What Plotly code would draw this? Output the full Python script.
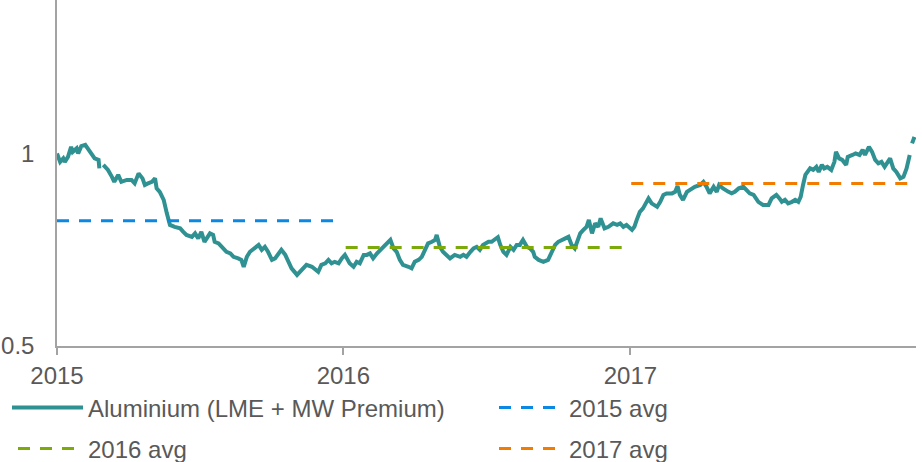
import plotly.graph_objects as go

# ---- data ----
dates = [
    "2015-01-01", "2015-01-05", "2015-01-09", "2015-01-11", "2015-01-15", "2015-01-19", "2015-01-21", "2015-01-26",
    "2015-01-28", "2015-02-01", "2015-02-06", "2015-02-10", "2015-02-14", "2015-02-18", "2015-02-23", "2015-02-24",
    "2015-02-27", "2015-03-01", "2015-03-07", "2015-03-12", "2015-03-15", "2015-03-20", "2015-03-24", "2015-03-31",
    "2015-04-06", "2015-04-10", "2015-04-15", "2015-04-20", "2015-04-23", "2015-04-27", "2015-05-02", "2015-05-06",
    "2015-05-08", "2015-05-12", "2015-05-17", "2015-05-21", "2015-05-25", "2015-05-31", "2015-06-07", "2015-06-11",
    "2015-06-15", "2015-06-22", "2015-06-26", "2015-06-30", "2015-07-04", "2015-07-08", "2015-07-11", "2015-07-15",
    "2015-07-19", "2015-07-21", "2015-07-26", "2015-08-01", "2015-08-05", "2015-08-10", "2015-08-14", "2015-08-20",
    "2015-08-24", "2015-08-27", "2015-08-31", "2015-09-04", "2015-09-10", "2015-09-15", "2015-09-19", "2015-09-23",
    "2015-09-27", "2015-10-02", "2015-10-06", "2015-10-10", "2015-10-14", "2015-10-19", "2015-10-23", "2015-10-27",
    "2015-11-03", "2015-11-09", "2015-11-15", "2015-11-22", "2015-11-26", "2015-11-30", "2015-12-04", "2015-12-09",
    "2015-12-13", "2015-12-17", "2015-12-21", "2015-12-26", "2015-12-30",
    "2016-01-03", "2016-01-09", "2016-01-14", "2016-01-18", "2016-01-22", "2016-01-27", "2016-01-31", "2016-02-04",
    "2016-02-08", "2016-02-13", "2016-02-19", "2016-02-25", "2016-03-01", "2016-03-05", "2016-03-09", "2016-03-13",
    "2016-03-17", "2016-03-24", "2016-03-28", "2016-04-01", "2016-04-06", "2016-04-10", "2016-04-14", "2016-04-18",
    "2016-04-23", "2016-04-27", "2016-04-29", "2016-05-03", "2016-05-07", "2016-05-12", "2016-05-16", "2016-05-22",
    "2016-05-29", "2016-06-02", "2016-06-06", "2016-06-11", "2016-06-15", "2016-06-19", "2016-06-23", "2016-06-27",
    "2016-07-04", "2016-07-08", "2016-07-12", "2016-07-16", "2016-07-19", "2016-07-23", "2016-07-27", "2016-08-01",
    "2016-08-05", "2016-08-09", "2016-08-13", "2016-08-17", "2016-08-22", "2016-08-26", "2016-08-30", "2016-09-01",
    "2016-09-06", "2016-09-12", "2016-09-18", "2016-09-23", "2016-09-27", "2016-10-01", "2016-10-05", "2016-10-10",
    "2016-10-14", "2016-10-18", "2016-10-22", "2016-10-25", "2016-10-29", "2016-11-02", "2016-11-06", "2016-11-09",
    "2016-11-13", "2016-11-17", "2016-11-21", "2016-11-24", "2016-11-29", "2016-12-04", "2016-12-10", "2016-12-15",
    "2016-12-19", "2016-12-23", "2016-12-27",
    "2017-01-03", "2017-01-06", "2017-01-09", "2017-01-13", "2017-01-17", "2017-01-22", "2017-01-24", "2017-01-28",
    "2017-02-04", "2017-02-08", "2017-02-12", "2017-02-16", "2017-02-23", "2017-02-27", "2017-03-02", "2017-03-05",
    "2017-03-09", "2017-03-14", "2017-03-18", "2017-03-24", "2017-03-31", "2017-04-04", "2017-04-08", "2017-04-12",
    "2017-04-17", "2017-04-21", "2017-04-24", "2017-04-29", "2017-05-06", "2017-05-10", "2017-05-14", "2017-05-19",
    "2017-05-25", "2017-05-29", "2017-06-02", "2017-06-07", "2017-06-13", "2017-06-19", "2017-06-26", "2017-06-30",
    "2017-07-06", "2017-07-10", "2017-07-13", "2017-07-17", "2017-07-21", "2017-07-26", "2017-07-30", "2017-08-03",
    "2017-08-06", "2017-08-09", "2017-08-12", "2017-08-18", "2017-08-22", "2017-08-26", "2017-08-29", "2017-09-02",
    "2017-09-05", "2017-09-09", "2017-09-14", "2017-09-18", "2017-09-20", "2017-09-24", "2017-09-28", "2017-10-03",
    "2017-10-05", "2017-10-11", "2017-10-15", "2017-10-20", "2017-10-24", "2017-10-27", "2017-11-01", "2017-11-05",
    "2017-11-09", "2017-11-13", "2017-11-17", "2017-11-21", "2017-11-28", "2017-12-02", "2017-12-06", "2017-12-11",
    "2017-12-15", "2017-12-19", "2017-12-23", "2017-12-24", "2017-12-26", "2017-12-29",
]

aluminium = [
    1.001, 0.979, 0.988, 0.979, 0.992, 1.018, 1.005, 1.014,
    1.001, 1.020, 1.023, 1.010, 0.997, 0.988, 0.984, 0.962,
    None, 0.971, 0.958, 0.940, 0.927, 0.945, 0.927, 0.932,
    0.932, 0.923, 0.949, 0.936, 0.919, 0.923, 0.927, 0.936,
    0.910, 0.901, 0.880, 0.845, 0.815, 0.810, 0.806, 0.797,
    0.789, 0.784, 0.793, 0.780, 0.797, 0.771, 0.780, 0.793,
    0.789, 0.771, 0.767, 0.754, 0.745, 0.741, 0.732, 0.728,
    0.724, 0.706, 0.732, 0.745, 0.754, 0.763, 0.750, 0.758,
    0.745, 0.724, 0.728, 0.741, 0.750, 0.737, 0.719, 0.702,
    0.685, 0.698, 0.711, 0.706, 0.698, 0.693, 0.711, 0.715,
    0.724, 0.715, 0.719, 0.715, 0.728,
    0.737, 0.715, 0.706, 0.719, 0.715, 0.737, 0.737, 0.741,
    0.728, 0.741, 0.754, 0.767, 0.776, 0.754, 0.745, 0.724,
    0.711, 0.706, 0.702, 0.719, 0.724, 0.732, 0.750, 0.767,
    0.771, 0.776, 0.789, 0.758, 0.745, 0.737, 0.728, 0.737,
    0.732, 0.737, 0.732, 0.745, 0.754, 0.758, 0.750, 0.763,
    0.771, 0.771, 0.776, 0.783, 0.763, 0.745, 0.737, 0.758,
    0.750, 0.763, 0.763, 0.776, 0.758, 0.754, 0.745, 0.732,
    0.724, 0.719, 0.724, 0.745, 0.763, 0.771, 0.776, 0.780,
    0.784, 0.763, 0.754, 0.771, 0.793, 0.802, 0.810, 0.828,
    0.793, 0.819, 0.810, 0.832, 0.806, 0.810, 0.819, 0.815,
    0.819, 0.810, 0.815,
    0.802, 0.810, 0.828, 0.849, 0.858, 0.880, 0.884, 0.871,
    0.862, 0.875, 0.893, 0.897, 0.897, 0.901, 0.916, 0.893,
    0.880, 0.901, 0.906, 0.914, 0.919, 0.927, 0.914, 0.897,
    0.914, 0.901, 0.919, 0.910, 0.901, 0.897, 0.901, 0.910,
    0.914, 0.906, 0.897, 0.893, 0.875, 0.867, 0.867, 0.884,
    0.893, 0.884, 0.875, 0.880, 0.871, 0.875, 0.880, 0.875,
    0.888, 0.919, 0.945, 0.962, 0.958, 0.966, 0.953, 0.971,
    0.962, 0.966, 0.958, 0.979, 1.005, 0.988, 0.984, 0.971,
    0.992, 0.997, 1.001, 0.997, 1.010, 0.997, 1.018, 1.005,
    0.984, 0.975, 0.979, 0.966, 0.988, 0.962, 0.953, 0.936,
    0.940, 0.962, 0.997, None, 1.027, 1.044,
]

avg_names = ["2015 avg", "2016 avg", "2017 avg"]
avg_values = [0.826, 0.756, 0.923]
avg_start = ["2015-01-01", "2016-01-04", "2017-01-02"]
avg_end = ["2015-12-31", "2016-12-30", "2017-12-29"]
avg_colors = ["#0A88E4", "#7BAA0A", "#F27C00"]

x_ticks = ["2015-01-01", "2016-01-01", "2017-01-01"]
x_ticktext = ["2015", "2016", "2017"]
y_ticks = [0.5, 1]
y_ticktext = ["0.5", "1"]

FONT = "Liberation Sans, Arial, sans-serif"
TEXT = "#595959"
AXIS = "#A3A3A3"
W, H = 922, 462

# one legend per entry, laid out as a 2 x 2 grid below the plot
legend_ids = ["legend", "legend2", "legend3", "legend4"]
legend_px = [(7, 408), (494, 408), (13, 449), (494, 449)]   # (left, centre) in pixels
legend_itemwidth = [71, 65, 65, 65]

fig = go.Figure()

fig.add_trace(go.Scatter(
    x=dates, y=aluminium, mode="lines", name="Aluminium (LME + MW Premium)",
    line=dict(color="#2F9191", width=4), connectgaps=False, legend=legend_ids[0],
))

avg_legends = [legend_ids[1], legend_ids[2], legend_ids[3]]
for name, val, s, e, col, lg in zip(avg_names, avg_values, avg_start, avg_end, avg_colors, avg_legends):
    fig.add_trace(go.Scatter(
        x=[s, e], y=[val, val], mode="lines", name=name,
        line=dict(color=col, width=3, dash="12px,10px"), legend=lg,
    ))

legend_layout = {}
for lid, (px, py), iw in zip(legend_ids, legend_px, legend_itemwidth):
    legend_layout[lid] = dict(
        orientation="h", xref="container", yref="container",
        x=px / W, y=1 - py / H, xanchor="left", yanchor="middle",
        font=dict(family=FONT, size=24, color=TEXT),
        itemwidth=iw, bgcolor="rgba(0,0,0,0)", borderwidth=0,
        itemclick=False, itemdoubleclick=False,
    )

fig.update_layout(
    width=W, height=H,
    margin=dict(l=57, r=6, t=0, b=116, autoexpand=False),
    paper_bgcolor="white", plot_bgcolor="white",
    font=dict(family=FONT, size=24, color=TEXT),
    showlegend=True,
    **legend_layout,
    xaxis=dict(
        type="date", range=["2015-01-01", "2017-12-31"],
        tickvals=x_ticks, ticktext=x_ticktext,
        showgrid=False, zeroline=False, automargin=False,
        showline=True, linecolor=AXIS, linewidth=1.5,
        ticks="outside", ticklen=7, tickwidth=1.5, tickcolor=AXIS,
        tickfont=dict(family=FONT, size=24, color=TEXT),
    ),
    yaxis=dict(
        range=[0.5, 1.4], tickvals=y_ticks, ticktext=y_ticktext,
        showgrid=False, zeroline=False, automargin=False,
        showline=True, linecolor=AXIS, linewidth=1.5,
        ticks="", ticklabelstandoff=16,
        tickfont=dict(family=FONT, size=24, color=TEXT),
    ),
)

# remove the browser's default page margin so the figure sits at the window's corner
fig.write_html(
    "out.html",
    config={"displayModeBar": False},
    post_script="document.body.style.margin='0';document.body.style.overflow='hidden';",
)
